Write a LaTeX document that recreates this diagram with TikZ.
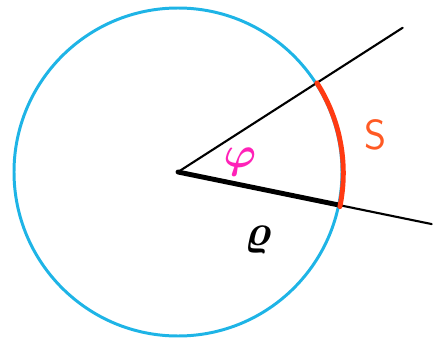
\documentclass[tikz,border=0pt]{standalone}
\usepackage{amsmath,amssymb}
\usetikzlibrary{calc}
\definecolor{circblue}{HTML}{1EB4E6}
\definecolor{arcred}{HTML}{FF3A12}
\definecolor{phimag}{HTML}{FF22B8}
\definecolor{sorange}{HTML}{FF5A24}
\tikzset{
  px/.style={x=0.02cm, y=-0.02cm},
  circ/.style={draw=circblue, line width=1.7pt},
  ray/.style={draw=black, line width=1.2pt, line cap=round},
  rhoseg/.style={draw=black, line width=2.8pt, line cap=round},
  arcseg/.style={draw=arcred, line width=2.8pt, line cap=round},
  lbl/.style={inner sep=0pt, font=\fontsize{24}{26}\selectfont},
  mlbl/.style={inner sep=0pt, font=\fontsize{30}{32}\selectfont\boldmath},
}

\begin{document}
\begin{tikzpicture}[px]
  \useasboundingbox (0,0) rectangle (433,338);
  % circle and its centre
  \coordinate (O) at (178,172);
  \draw[circ] (O) circle (164);
  % the two rays
  \coordinate (A) at ($(O)+(-32.7:267)$);
  \coordinate (B) at ($(O)+(11.6:259)$);
  \coordinate (P) at ($(O)+(-32.7:165)$);
  \coordinate (Q) at ($(O)+(11.6:165)$);
  \draw[ray] (O) -- (A);
  \draw[ray] (O) -- (B);
  % radius and arc
  \draw[rhoseg] (O) -- (Q);
  \draw[arcseg] (P) arc[start angle=-32.7, end angle=11.6, radius=167];
  % labels
  \node[mlbl, text=phimag] (phi) at (240,162) {$\varphi$};
  \node[lbl, text=sorange] (s) at (376,135) {\sffamily S};
  \node[mlbl] (rho) at (258,240) {$\varrho$};
\end{tikzpicture}
\end{document}
